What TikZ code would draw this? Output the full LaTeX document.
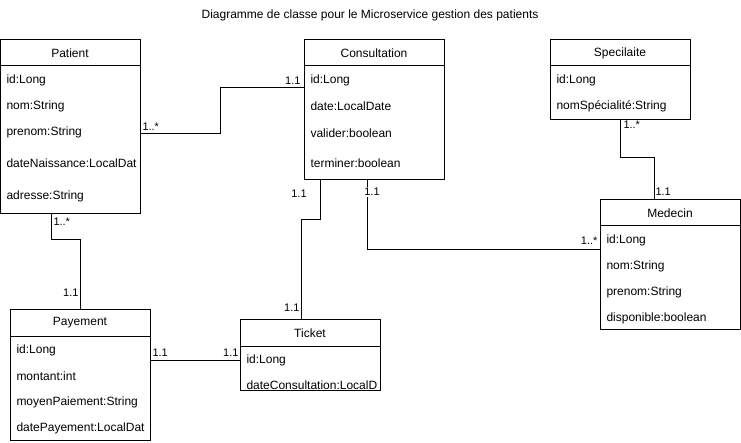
\documentclass[tikz,border=0pt]{standalone}
\usepackage{fontspec}
\setmainfont{Liberation Sans}
\begin{document}
\begin{tikzpicture}[x=1pt,y=-1pt,line width=1pt,
  classhead/.style={draw, minimum width=140pt, minimum height=26pt, inner sep=0pt, font=\fontsize{12}{14}\selectfont},
  classbody/.style={draw, minimum width=140pt, inner sep=0pt},
  attr/.style={anchor=west, inner sep=0pt, font=\fontsize{12}{14}\selectfont},
  mult/.style={inner sep=0pt, font=\fontsize{11}{13}\selectfont}]
\useasboundingbox (0,0) rectangle (741,443);
\node[inner sep=0pt, font=\fontsize{12}{14}\selectfont] (title) at (370,15) {Diagramme de classe pour le Microservice gestion des patients};

\node[classhead] (patient) at (70,53) {Patient};
\node[classbody, minimum height=148pt] (patientbody) at (70,140) {};
\node[attr] (pa1) at (6,80) {id:Long};
\node[attr] (pa2) at (6,106) {nom:String};
\node[attr] (pa3) at (6,132) {prenom:String};
\node[attr] (pa4) at (6,163) {dateNaissance:LocalDat};
\node[attr] (pa5) at (6,196) {adresse:String};

\node[classhead] (consultation) at (374,53) {Consultation};
\node[classbody, minimum height=114pt] (consultationbody) at (374,123) {};
\node[attr] (ca1) at (310,80) {id:Long};
\node[attr] (ca2) at (310,106) {date:LocalDate};
\node[attr] (ca3) at (310,133) {valider:boolean};
\node[attr] (ca4) at (310,163) {terminer:boolean};

\node[classhead] (specilaite) at (620,53) {Specilaite};
\node[classbody, minimum height=54pt] (specilaitebody) at (620,93) {};
\node[attr] (sa1) at (556,80) {id:Long};
\node[attr] (sa2) at (556,106) {nomSpécialité:String};

\node[classhead] (medecin) at (670,213) {Medecin};
\node[classbody, minimum height=104pt] (medecinbody) at (670,278) {};
\node[attr] (ma1) at (606,240) {id:Long};
\node[attr] (ma2) at (606,266) {nom:String};
\node[attr] (ma3) at (606,292) {prenom:String};
\node[attr] (ma4) at (606,318) {disponible:boolean};

\node[classhead] (payement) at (80,323) {Payement};
\node[classbody, minimum height=104pt] (payementbody) at (80,388) {};
\node[attr] (ya1) at (16,350) {id:Long};
\node[attr] (ya2) at (16,376) {montant:int};
\node[attr] (ya3) at (16,402) {moyenPaiement:String};
\node[attr] (ya4) at (16,428) {datePayement:LocalDat};

\node[classhead] (ticket) at (310,333) {Ticket};
\node[classbody, minimum height=44pt] (ticketbody) at (310,368) {};
\node[attr] (ta1) at (246,360) {id:Long};
\node[attr] (ta2) at (246,385) {dateConsultation:LocalD};

\path[draw] ([yshift=6pt]patientbody.east) -| (220,88) -- ([yshift=35pt]consultationbody.west);
\path[draw] ([xshift=-19pt]patientbody.south) |- (80,240) -- (payement.north);
\path[draw] ([xshift=-54pt]consultationbody.south) |- (301,220) -- ([xshift=-9pt]ticket.north);
\path[draw] ([xshift=-7pt]consultationbody.south) |- ([yshift=28pt]medecinbody.west);
\path[draw] (specilaitebody.south) |- (654,158) -- ([xshift=-16pt]medecin.north);
\path[draw] ([yshift=28pt]payementbody.east) -- ([yshift=8pt]ticketbody.west);

\node[mult, anchor=south west] (m1) at (142,131) {1..*};
\node[mult, anchor=south east] (m2) at (301,85) {1.1};
\node[mult, anchor=north west] (m3) at (53,217) {1..*};
\node[mult, anchor=south east] (m4) at (79,297) {1.1};
\node[mult] (m5) at (299,194) {1.1};
\node[mult, anchor=south east] (m6) at (300,312) {1.1};
\node[mult, fill=white, inner sep=1.5pt] (m7) at (372,192) {1.1};
\node[mult, anchor=south east] (m8) at (598,245) {1..*};
\node[mult, anchor=north west] (m9) at (623,120) {1..*};
\node[mult, anchor=south west] (m10) at (655,196) {1.1};
\node[mult, anchor=south west] (m11) at (152,357) {1.1};
\node[mult, anchor=south east] (m12) at (239,357) {1.1};
\end{tikzpicture}
\end{document}
